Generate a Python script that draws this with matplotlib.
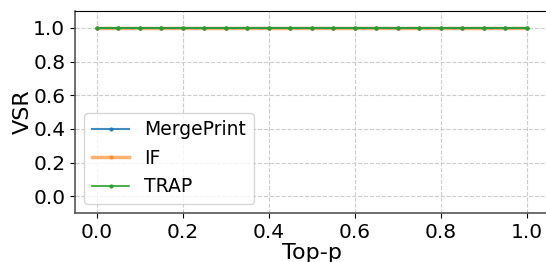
import matplotlib
matplotlib.use("Agg")
import matplotlib.pyplot as plt

top_p = [0.0, 0.05, 0.1, 0.15, 0.2, 0.25, 0.3, 0.35, 0.4, 0.45, 0.5,
         0.55, 0.6, 0.65, 0.7, 0.75, 0.8, 0.85, 0.9, 0.95, 1.0]
mergeprint = [1.0] * 21
if_vals = [1.0] * 21
trap = [1.0] * 21

fig = plt.figure(figsize=(5.46, 2.62), dpi=100)
ax = fig.add_axes([75/546, 1-213/262, 473/546, (213-11)/262])

ax.plot(top_p, mergeprint, color='#1f77b4', lw=1.5, alpha=0.85, marker='o', ms=2,
        label='MergePrint', zorder=3)
ax.plot(top_p, if_vals, color='#ff7f0e', lw=2.5, alpha=0.6, marker='o', ms=2,
        label='IF', zorder=2)
ax.plot(top_p, trap, color='#2ca02c', lw=1.2, marker='o', ms=2, label='TRAP', zorder=4)

ax.set_xlim(-0.05, 1.05)
ax.set_ylim(-0.1, 1.1)
ax.set_xticks([0.0, 0.2, 0.4, 0.6, 0.8, 1.0])
ax.set_yticks([0.0, 0.2, 0.4, 0.6, 0.8, 1.0])
ax.tick_params(labelsize=14.5)
ax.set_xlabel('Top-p', fontsize=16, labelpad=1)
ax.set_ylabel('VSR', fontsize=16, labelpad=0)
ax.grid(True, linestyle='--', color='#cccccc', lw=0.8)
for s in ['left', 'bottom']:
    ax.spines[s].set_color('#555555')
    ax.spines[s].set_linewidth(1.2)
ax.legend(loc='lower left', fontsize=13.5, framealpha=0.8)

fig.savefig('out.png', dpi=100)
